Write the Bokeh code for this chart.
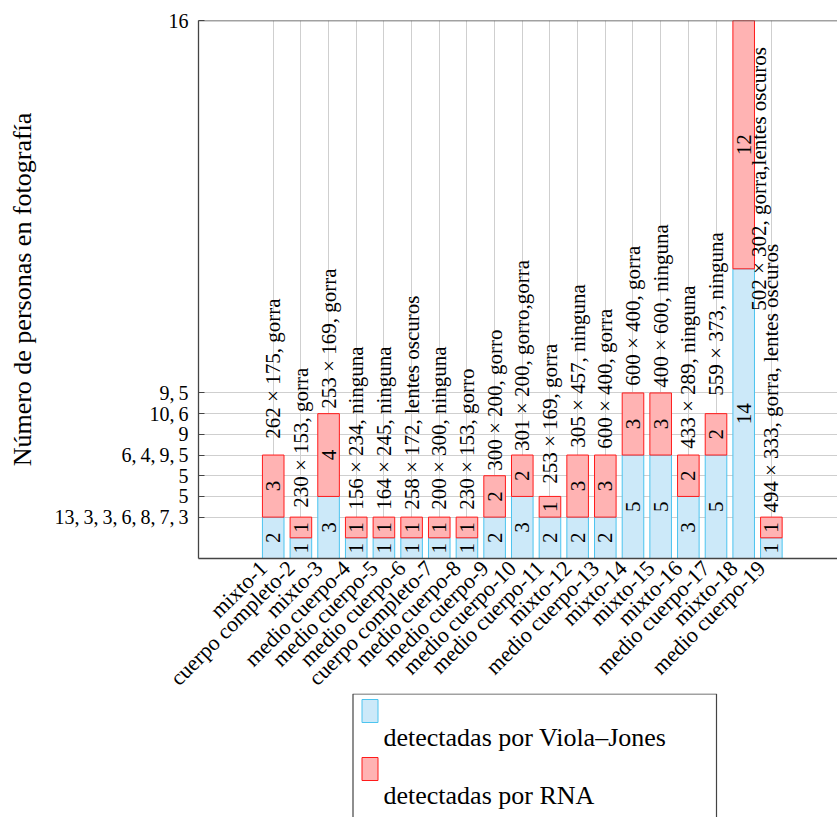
import math

from bokeh.core.properties import value
from bokeh.embed import file_html
from bokeh.layouts import column
from bokeh.models import ColumnDataSource, FixedTicker, LabelSet, Range1d, Span
from bokeh.plotting import figure
from bokeh.resources import INLINE

# ---- data -------------------------------------------------------------
categories = [
    "mixto-1", "cuerpo completo-2", "mixto-3", "medio cuerpo-4", "medio cuerpo-5",
    "medio cuerpo-6", "cuerpo completo-7", "medio cuerpo-8", "medio cuerpo-9",
    "medio cuerpo-10", "medio cuerpo-11", "mixto-12", "medio cuerpo-13", "mixto-14",
    "mixto-15", "mixto-16", "medio cuerpo-17", "mixto-18", "medio cuerpo-19",
]
viola_jones = [2, 1, 3, 1, 1, 1, 1, 1, 2, 3, 2, 2, 2, 5, 5, 3, 5, 14, 1]
rna = [3, 1, 4, 1, 1, 1, 1, 1, 2, 2, 1, 3, 3, 3, 3, 2, 2, 12, 1]
photo_notes = [
    "262 × 175, gorra", "230 × 153, gorra", "253 × 169, gorra",
    "156 × 234, ninguna", "164 × 245, ninguna", "258 × 172, lentes oscuros",
    "200 × 300, ninguna", "230 × 153, gorro", "300 × 200, gorro",
    "301 × 200, gorro,gorra", "253 × 169, gorra", "305 × 457, ninguna",
    "600 × 400, gorra", "600 × 400, gorra", "400 × 600, ninguna",
    "433 × 289, ninguna", "559 × 373, ninguna", "502 × 302, gorra,lentes oscuros",
    "494 × 333, gorra, lentes oscuros",
]
# height at which each note starts
note_base = [5.79, 2.45, 7.24, 2.35, 2.35, 2.35, 2.35, 2.35, 4.24, 5.20,
             3.61, 5.35, 5.30, 8.35, 8.25, 5.30, 7.87, 11.97, 2.21]
note_dx = [0] * 17 + [15, 0]

y_tick_values = [2, 3, 4, 5, 6, 7, 8, 26]
y_tick_labels = ["13,\u20093,\u20093,\u20096,\u20098,\u20097,\u20093", "5", "5",
                 "6,\u20094,\u20099,\u20095", "9", "10,\u20096", "9,\u20095", "16"]

series_names = ["detectadas por Viola–Jones", "detectadas por RNA"]
series_fill = ["#cce9f9", "#ffb3b3"]
series_line = ["#4cc4ef", "#ff1a1a"]

FONT = "Liberation Serif"
AXIS_COLOR = "#444444"
LABEL_SHIFT = 0.36  # rotated category names end slightly left of their bar

# ---- derived columns ---------------------------------------------------
xs = list(range(1, len(categories) + 1))
totals = [a + b for a, b in zip(viola_jones, rna)]
src = ColumnDataSource(dict(
    x=xs,
    vj=viola_jones,
    rna=rna,
    total=totals,
    vj_mid=[v / 2 for v in viola_jones],
    rna_mid=[v + r / 2 for v, r in zip(viola_jones, rna)],
    vj_txt=[str(v) for v in viola_jones],
    rna_txt=[str(r) for r in rna],
    note=photo_notes,
    note_y=note_base,
    note_dx=note_dx,
))

# ---- main chart --------------------------------------------------------
p = figure(
    width=837, height=706,
    x_range=Range1d(-1.7, 21.39), y_range=Range1d(0, 26),
    output_backend="svg", toolbar_location=None,
    min_border_left=198, min_border_right=0, min_border_top=20, min_border_bottom=148,
)
p.outline_line_color = None
p.background_fill_color = "white"

grid_ticker = FixedTicker(ticks=xs)
label_ticks = [round(x - LABEL_SHIFT, 2) for x in xs]
label_ticker = FixedTicker(ticks=label_ticks)
yticker = FixedTicker(ticks=y_tick_values)

xa = p.xaxis[0]
xa.ticker = label_ticker
xa.major_label_overrides = {t: c for t, c in zip(label_ticks, categories)}
xa.major_label_orientation = math.pi / 4
xa.major_label_text_font = FONT
xa.major_label_text_font_size = "22px"
xa.major_label_text_color = "black"
xa.major_label_standoff = 6
xa.major_tick_in = 0
xa.major_tick_out = 0
xa.major_tick_line_color = None
xa.minor_tick_line_color = None
xa.axis_line_color = AXIS_COLOR
xa.axis_line_width = 1.3

ya = p.yaxis[0]
ya.ticker = yticker
ya.major_label_overrides = {v: t for v, t in zip(y_tick_values, y_tick_labels)}
ya.major_label_text_font = FONT
ya.major_label_text_font_size = "20px"
ya.major_label_text_color = "black"
ya.major_label_standoff = 10
ya.major_tick_in = 6
ya.major_tick_out = 0
ya.minor_tick_line_color = None
ya.axis_line_color = AXIS_COLOR
ya.axis_line_width = 1.3
ya.major_tick_line_color = AXIS_COLOR
ya.axis_label = "Número de personas en fotografía"
ya.axis_label_text_font = FONT
ya.axis_label_text_font_size = "26px"
ya.axis_label_text_font_style = "normal"
ya.axis_label_text_color = "black"
ya.axis_label_standoff = 14

# top border of the plot area
p.add_layout(Span(location=26, dimension="width", line_color=AXIS_COLOR, line_width=1.3))

p.xgrid.ticker = grid_ticker
p.ygrid.ticker = yticker
p.xgrid.grid_line_color = "#cfcfcf"
p.ygrid.grid_line_color = "#cfcfcf"
p.xgrid.grid_line_width = 1
p.ygrid.grid_line_width = 1

# stacked bars
p.vbar(x="x", bottom=0, top="vj", width=0.78, source=src,
       fill_color=series_fill[0], line_color=series_line[0], line_width=1)
p.vbar(x="x", bottom="vj", top="total", width=0.78, source=src,
       fill_color=series_fill[1], line_color=series_line[1], line_width=1)

# segment values
for col_y, col_t in (("vj_mid", "vj_txt"), ("rna_mid", "rna_txt")):
    p.text(x="x", y=col_y, text=col_t, source=src, angle=math.pi / 2,
           text_align="center", text_baseline="middle",
           text_font=value(FONT), text_font_size="21px", text_color="black")

# photo size / accessories notes
p.text(x="x", y="note_y", text="note", x_offset="note_dx", source=src,
       angle=math.pi / 2, text_align="left", text_baseline="middle",
       text_font=value(FONT), text_font_size="21px", text_color="black")

# ---- legend panel ------------------------------------------------------
lg = figure(width=837, height=124, x_range=Range1d(198, 837), y_range=Range1d(0, 124),
            output_backend="svg", toolbar_location=None, min_border=0,
            min_border_left=198, x_axis_location=None, y_axis_location=None)
lg.outline_line_color = None
lg.grid.visible = False
lg.border_fill_alpha = 0
lg.background_fill_alpha = 0
lg.margin = (-13, 0, 0, 0)

lg.quad(left=352.5, right=716, top=123.5, bottom=-5, fill_color=None,
        line_color=AXIS_COLOR, line_width=1.2)
leg_src = ColumnDataSource(dict(
    name=series_names,
    fill=series_fill,
    line=series_line,
    sw_top=[118, 60],
    sw_bottom=[95, 37],
    tx_y=[72, 14],
))
lg.quad(left=361.5, right=377.5, top="sw_top", bottom="sw_bottom", source=leg_src,
        fill_color="fill", line_color="line", line_width=1)
lg.add_layout(LabelSet(x=383, y="tx_y", text="name", source=leg_src, text_align="left",
                       text_baseline="alphabetic", text_font=FONT, text_font_size="26px",
                       text_color="black"))

layout = column(p, lg, spacing=0)
open("out.html", "w").write(file_html(layout, INLINE))
